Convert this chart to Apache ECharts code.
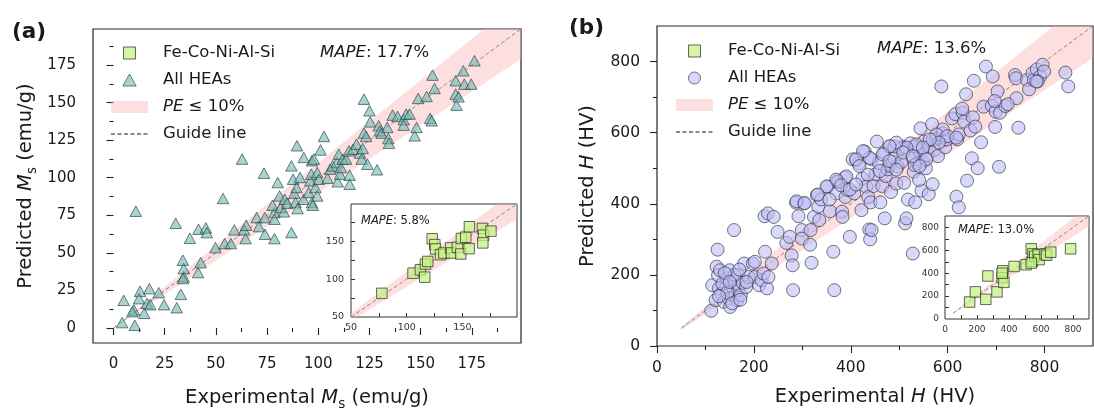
<!DOCTYPE html>
<html>
<head>
<meta charset="utf-8">
<script src="https://cdn.jsdelivr.net/npm/echarts@6/dist/echarts.min.js"></script>
<style>
  html, body { margin: 0; padding: 0; background: #fff; }
  #chart { width: 1094px; height: 410px; }
</style>
</head>
<body>
<div id="chart"></div>
<script>
// ---------- (a) saturation magnetisation Ms, emu/g ----------
// All HEAs: experimental vs predicted
const msHeaExp = [4.2,5.0,10.4,10.0,9.2,13.0,12.5,15.0,16.4,17.5,18.0,22.1,24.7,30.9,32.9,30.4,10.9,33.9,34.3,34.3,33.9,37.3,41.5,41.3,42.6,45.1,45.6,49.8,53.5,54.3,57.3,59.0,62.8,63.8,64.8,64.5,69.9,71.0,73.5,74.0,73.9,78.6,78.6,77.7,78.6,80.2,81.1,81.6,83.2,83.6,84.9,86.9,86.9,87.7,88.3,88.9,89.6,89.4,89.9,91.1,92.9,92.8,95.3,96.1,96.6,96.9,96.9,97.8,97.3,98.6,99.5,99.5,100.3,101.1,102.8,104.5,105.8,107.0,109.0,109.5,110.0,110.6,111.1,112.0,113.6,115.0,115.3,115.3,117.0,118.7,120.4,121.2,121.7,122.3,122.3,123.4,124.0,125.0,125.4,128.7,129.5,130.0,130.9,133.7,134.2,134.5,136.3,138.7,141.7,141.7,142.9,144.6,147.1,148.0,148.8,152.9,154.6,155.4,155.8,156.8,167.1,167.1,167.5,170.8,171.3,174.7,176.3,168.5];
const msHeaPred = [3.6,18.4,1.8,12.0,10.9,24.4,19.5,9.8,16.4,26.2,15.5,23.5,15.5,13.5,22.4,69.7,77.7,45.1,39.5,34.0,32.9,59.7,65.7,36.9,43.5,66.6,63.5,53.5,86.2,56.2,56.2,65.3,112.4,65.3,68.4,59.5,73.5,67.5,103.0,62.4,73.5,59.5,76.8,81.7,72.4,96.8,87.9,80.2,77.3,85.7,83.1,107.9,63.5,99.0,89.7,83.5,121.3,93.5,79.5,100.2,113.5,85.7,90.2,97.9,102.4,83.5,111.3,112.4,81.7,93.5,87.9,103.5,99.0,118.5,127.5,99.7,105.7,107.9,110.1,97.3,115.7,102.4,106.8,112.4,112.4,117.9,101.7,95.7,119.0,122.4,116.4,112.4,119.5,152.3,129.7,127.5,109.0,144.6,137.2,105.3,134.6,131.2,129.7,133.5,126.1,123.0,141.7,140.8,138.6,135.0,142.4,142.4,127.9,133.5,152.8,154.1,139.5,137.9,168.3,159.4,164.6,155.7,148.3,171.2,162.3,162.3,177.9,153.9];
// Fe-Co-Ni-Al-Si subset
const msFcnExp  = [77.7,105.7,112.3,116.8,118.9,116.2,122.9,125.2,125.9,130.4,133.4,139.4,140.3,145.5,149.1,148.5,153.0,156.3,156.0,168.0,169.0,168.3,175.6];
const msFcnPred = [81.2,107.8,112.2,119.8,123.2,102.5,153.1,145.5,139.7,132.2,134.4,141.1,134.4,141.9,153.5,133.1,155.2,169.0,140.1,166.8,157.9,147.7,163.2];

// ---------- (b) hardness H, HV ----------
const hvHeaExp  = [112,125,114,123,126,130,128,121,133,138,143,144,148,151,150,159,155,159,162,166,167,168,169,173,177,180,184,189,198,202,202,211,216,220,222,229,241,223,227,230,237,249,267,274,278,280,281,287,292,303,299,299,316,319,317,324,330,333,335,339,352,357,364,366,371,370,382,383,388,389,393,398,407,411,417,422,424,429,432,436,438,440,443,443,441,447,451,458,461,465,469,470,472,476,479,483,481,487,490,494,497,505,508,510,512,515,518,523,528,530,528,533,537,542,544,546,548,551,555,559,561,562,568,569,573,577,580,587,590,591,595,598,609,616,620,618,623,623,631,634,638,640,647,650,652,654,657,662,669,674,679,691,693,698,699,703,706,708,719,739,741,742,746,764,768,775,778,784,791,796,799,843,849,786,374,404,454,505,490,533,569,541,532,
  697,724,783,630,590,577,599,618,582,563,535,549,515,494,480,508,528,556,542,466,480,494,460,439,425,411,418,435,391,370,380,398,411,350,332,356,288,305,
  135,145,155,160,172,140,185,150,128,170];
const hvHeaPred = [99,271,171,223,199,213,162,129,147,124,166,190,133,110,213,326,168,185,143,129,157,199,171,143,178,232,166,194,232,237,194,171,185,204,365,373,363,265,162,194,232,321,290,307,255,227,157,403,365,401,326,302,285,234,326,363,424,392,354,412,448,379,265,157,463,429,378,363,474,419,439,307,429,523,514,382,471,547,448,419,328,300,326,525,404,450,483,515,404,450,543,359,478,497,507,433,561,518,528,457,505,518,561,459,345,359,412,570,528,490,260,404,514,547,612,437,518,575,500,537,427,561,624,455,551,584,534,730,598,579,559,581,640,652,581,420,390,595,656,631,708,465,606,528,643,746,617,500,573,673,786,676,758,616,659,716,504,656,675,762,753,697,614,748,722,767,748,778,758,791,772,769,730,744,462,525,575,556,561,561,579,467,509,
  689,680,744,668,609,595,590,586,572,581,567,558,558,572,562,544,534,525,506,539,520,496,492,529,548,525,506,482,477,468,452,440,454,449,426,412,407,402,
  175,150,120,200,130,205,180,180,140,215];
// Fe-Co-Ni-Al-Si subset
const hvFcnExp  = [154,190,255,268,325,361,357,368,357,432,507,539,546,550,561,582,588,625,635,661,785,539];
const hvFcnPred = [148,237,172,376,237,421,361,320,400,459,474,613,504,569,548,563,519,569,557,584,613,489];

// ---------- tick values ----------
const msMajorTicks = [0, 25, 50, 75, 100, 125, 150, 175];
const msMinorTicks = [12.5, 37.5, 62.5, 87.5, 112.5, 137.5, 162.5, 187.5];
const msInsetTicks = [75, 100, 125, 150, 175];
const msInsetLabels = [50, 100, 150];
const hvMajorTicks = [0, 200, 400, 600, 800];
const hvMinorTicks = [100, 300, 500, 700];
const hvInsetTicks = [100, 200, 300, 400, 500, 600, 700, 800];
const hvInsetLabels = [0, 200, 400, 600, 800];

// ---------- annotations ----------
const mapeText = ['17.7%', '5.8%', '13.6%', '13.0%'];
const panelLabels = ['(a)', '(b)'];

const FONT = "'DejaVu Sans', sans-serif";
const INK = '#1a1a1a';
const BAND_FILL = 'rgba(250,178,178,0.42)';
const GUIDE = { type: [4, 2.5], color: '#8a8a8a', width: 1 };
const SQ = { color: 'rgba(196,243,132,0.92)', borderColor: '#2b2b2b', borderWidth: 0.9 };
const TRI = { color: 'rgba(108,184,177,0.75)', borderColor: '#263a3a', borderWidth: 0.8 };
const CIR = { color: 'rgba(190,190,246,0.75)', borderColor: '#2b2b3a', borderWidth: 0.8 };
const ICON_SQUARE = 'path://M0,0L10,0L10,10L0,10Z';
const ICON_TRIANGLE = 'path://M5,0L10,9L0,9Z';
const ICON_CIRCLE = 'path://M10,5A5,5,0,1,1,0,5A5,5,0,1,1,10,5Z';

const zip = (a, b) => a.map((v, i) => [v, b[i]]);

// clip a convex polygon (data space) to an axis-aligned box
function clipPoly(pts, x0, x1, y0, y1) {
  const lerp = (a, b, t) => [a[0] + t * (b[0] - a[0]), a[1] + t * (b[1] - a[1])];
  const planes = [
    [p => p[0] >= x0, (a, b) => lerp(a, b, (x0 - a[0]) / (b[0] - a[0]))],
    [p => p[0] <= x1, (a, b) => lerp(a, b, (x1 - a[0]) / (b[0] - a[0]))],
    [p => p[1] >= y0, (a, b) => lerp(a, b, (y0 - a[1]) / (b[1] - a[1]))],
    [p => p[1] <= y1, (a, b) => lerp(a, b, (y1 - a[1]) / (b[1] - a[1]))]
  ];
  let out = pts;
  for (const [inside, cut] of planes) {
    const src = out; out = [];
    for (let i = 0; i < src.length; i++) {
      const cur = src[i], prev = src[(i + src.length - 1) % src.length];
      if (inside(cur)) { if (!inside(prev)) out.push(cut(prev, cur)); out.push(cur); }
      else if (inside(prev)) out.push(cut(prev, cur));
    }
  }
  return out;
}

// PE <= 10 % band and y = x guide for one coordinate system
function bandAndGuide(idx, start, ext, z) {
  const [xmin, xmax, ymin, ymax] = ext;
  const poly = clipPoly([[start, 0.9 * start], [xmax, 0.9 * xmax], [xmax, 1.1 * xmax], [start, 1.1 * start]], xmin, xmax, ymin, ymax);
  return [
    {
      name: 'PE ≤ 10%', type: 'custom', xAxisIndex: idx, yAxisIndex: idx, z: z, silent: true,
      itemStyle: { color: BAND_FILL },
      data: [[start, start]],
      renderItem: (params, api) => ({
        type: 'polygon',
        shape: { points: poly.map(p => api.coord(p)) },
        style: { fill: BAND_FILL }
      })
    },
    {
      name: 'Guide line', type: 'line', xAxisIndex: idx, yAxisIndex: idx, z: z + 1, silent: true,
      symbol: 'none', lineStyle: GUIDE, itemStyle: { color: 'rgba(0,0,0,0)', borderWidth: 0 },
      data: [[start, start], [Math.min(xmax, ymax), Math.min(xmax, ymax)]]
    }
  ];
}

const tickStyle = { color: '#222', width: 1.1 };

function mainAxes(dim, grid, min, max, major, minor, name, gap, fs, margin) {
  const nameStyle = {
    fontFamily: FONT, fontSize: 19.5, color: INK,
    rich: {
      n: { fontFamily: FONT, fontSize: 19.5, color: INK, lineHeight: 26 },
      i: { fontFamily: FONT, fontSize: 19.5, color: INK, fontStyle: 'italic', lineHeight: 26 },
      s: { fontFamily: FONT, fontSize: 13.5, color: INK, lineHeight: 14, verticalAlign: 'bottom' }
    }
  };
  const pos = dim === 'x' ? 'bottom' : 'left';
  return [
    {
      type: 'value', gridIndex: grid, min, max, position: pos,
      axisLine: { show: false }, splitLine: { show: false },
      axisTick: { show: true, customValues: major, length: 7, lineStyle: tickStyle },
      axisLabel: { customValues: major, margin, fontFamily: FONT, fontSize: fs, color: INK },
      name, nameLocation: 'middle', nameGap: gap, nameRotate: dim === 'y' ? 90 : 0,
      nameTextStyle: nameStyle
    },
    {
      type: 'value', gridIndex: grid, min, max, position: pos, offset: 0,
      axisLine: { show: false }, splitLine: { show: false },
      axisTick: { show: true, customValues: minor, length: 4, lineStyle: tickStyle },
      axisLabel: { show: false }
    }
  ];
}

function insetAxis(grid, min, max, ticks, labels, fs, margin, dimPos) {
  return {
    type: 'value', gridIndex: grid, min, max, position: dimPos, z: 11,
    axisLine: { show: false }, splitLine: { show: false },
    axisTick: { show: true, inside: true, customValues: ticks, length: 4, lineStyle: { color: '#333', width: 1 } },
    axisLabel: { customValues: labels, margin, fontFamily: FONT, fontSize: fs, color: '#333' }
  };
}

const extA = [-10, 199, -10, 199];
const extAi = [50, 199, 50, 199];
const extB = [0, 900, 0, 900];
const extBi = [0, 900, 0, 900];

const gridBase = { show: true, containLabel: false, outerBoundsMode: 'none' };
const grids = [
  { ...gridBase, left: 93, top: 29, width: 428, height: 314, borderColor: '#262626', borderWidth: 1.2, backgroundColor: 'transparent' },
  { ...gridBase, left: 351, top: 204, width: 166, height: 113, borderColor: '#333', borderWidth: 1, backgroundColor: '#fff', z: 10 },
  { ...gridBase, left: 657, top: 26, width: 436, height: 320, borderColor: '#262626', borderWidth: 1.2, backgroundColor: 'transparent' },
  { ...gridBase, left: 945, top: 216, width: 144, height: 103, borderColor: '#333', borderWidth: 1, backgroundColor: '#fff', z: 10 }
];

const aX = mainAxes('x', 0, extA[0], extA[1], msMajorTicks, msMinorTicks,
  '{n|Experimental }{i|M}{s|s}{n| (emu/g)}', 42, 15, 14);
const aY = mainAxes('y', 0, extA[2], extA[3], msMajorTicks, msMinorTicks,
  '{n|Predicted }{i|M}{s|s}{n| (emu/g)}', 54, 15, 17);
const bX = mainAxes('x', 2, extB[0], extB[1], hvMajorTicks, hvMinorTicks,
  '{n|Experimental }{i|H}{n| (HV)}', 38, 15.5, 14);
const bY = mainAxes('y', 2, extB[2], extB[3], hvMajorTicks, hvMinorTicks,
  '{n|Predicted }{i|H}{n| (HV)}', 56, 15.5, 17);

// axis order: 0 main-a, 1 inset-a, 2 main-b, 3 inset-b, then minor-tick axes
const xAxes = [aX[0], insetAxis(1, extAi[0], extAi[1], msInsetTicks, msInsetLabels, 9.5, 6, 'bottom'),
  bX[0], insetAxis(3, extBi[0], extBi[1], hvInsetTicks, hvInsetLabels, 9, 6, 'bottom'), aX[1], bX[1]];
const yAxes = [aY[0], insetAxis(1, extAi[2], extAi[3], msInsetTicks, msInsetLabels, 9.5, 7, 'left'),
  bY[0], insetAxis(3, extBi[2], extBi[3], hvInsetTicks, hvInsetLabels, 9, 6, 'left'), aY[1], bY[1]];

const series = [
  ...bandAndGuide(0, 0, extA, 1),
  { name: 'All HEAs', type: 'scatter', xAxisIndex: 0, yAxisIndex: 0, z: 3, symbol: 'triangle', symbolSize: [11.5, 10.5],
    itemStyle: TRI, data: zip(msHeaExp, msHeaPred) },
  ...bandAndGuide(1, 50, extAi, 12),
  { name: 'Fe-Co-Ni-Al-Si', type: 'scatter', xAxisIndex: 1, yAxisIndex: 1, z: 14, symbol: 'rect', symbolSize: 10.5,
    itemStyle: SQ, data: zip(msFcnExp, msFcnPred) },
  ...bandAndGuide(2, 50, extB, 1),
  { name: 'All HEAs', type: 'scatter', xAxisIndex: 2, yAxisIndex: 2, z: 3, symbol: 'circle', symbolSize: 13,
    itemStyle: CIR, data: zip(hvHeaExp, hvHeaPred) },
  ...bandAndGuide(3, 50, extBi, 12),
  { name: 'Fe-Co-Ni-Al-Si', type: 'scatter', xAxisIndex: 3, yAxisIndex: 3, z: 14, symbol: 'rect', symbolSize: 10.5,
    itemStyle: SQ, data: zip(hvFcnExp, hvFcnPred) }
];

function legendFor(left, top, heaIcon, heaStyle) {
  return {
    left, top, orient: 'vertical', padding: 0, itemGap: 7, itemWidth: 37, itemHeight: 12,
    selectedMode: false, symbolKeepAspect: true,
    textStyle: {
      fontFamily: FONT, fontSize: 16.5, color: INK, lineHeight: 20, padding: [0, 0, 0, 10],
      rich: { i: { fontFamily: FONT, fontSize: 16.5, color: INK, fontStyle: 'italic', lineHeight: 20 },
              t: { fontFamily: FONT, fontSize: 16.5, color: INK, lineHeight: 20 } }
    },
    formatter: name => name === 'PE ≤ 10%' ? '{i|PE}{t| ≤ 10%}' : name,
    data: [
      { name: 'Fe-Co-Ni-Al-Si', icon: ICON_SQUARE, itemStyle: { ...SQ } },
      { name: 'All HEAs', icon: heaIcon, itemStyle: { ...heaStyle } },
      { name: 'PE ≤ 10%', icon: 'rect', itemStyle: { color: BAND_FILL, borderWidth: 0 } },
      { name: 'Guide line', itemStyle: { color: 'rgba(0,0,0,0)', borderWidth: 0 } }
    ]
  };
}

function textBox(text, left, top, fs, z, bold) {
  return {
    text, left, top, padding: 0, z: z || 4,
    textStyle: {
      fontFamily: FONT, fontSize: fs, color: INK, fontWeight: bold ? 'bold' : 'normal',
      rich: {
        i: { fontFamily: FONT, fontSize: fs, color: INK, fontStyle: 'italic' },
        t: { fontFamily: FONT, fontSize: fs, color: INK }
      }
    }
  };
}

const option = {
  animation: false,
  backgroundColor: '#fff',
  grid: grids,
  xAxis: xAxes,
  yAxis: yAxes,
  legend: [
    legendFor(110, 43, ICON_TRIANGLE, TRI),
    legendFor(675, 41, ICON_CIRCLE, CIR)
  ],
  title: [
    textBox(panelLabels[0], 12, 21, 21.5, 4, true),
    textBox(panelLabels[1], 569, 17, 21.5, 4, true),
    textBox('{i|MAPE}{t|: ' + mapeText[0] + '}', 320, 44, 16.5),
    textBox('{i|MAPE}{t|: ' + mapeText[1] + '}', 361, 215, 11.5, 15),
    textBox('{i|MAPE}{t|: ' + mapeText[2] + '}', 877, 40, 16.5),
    textBox('{i|MAPE}{t|: ' + mapeText[3] + '}', 958, 224, 11.5, 15)
  ],
  series
};

const chart = echarts.init(document.getElementById('chart'), null, { renderer: 'canvas' });
chart.setOption(option);
</script>
</body>
</html>
